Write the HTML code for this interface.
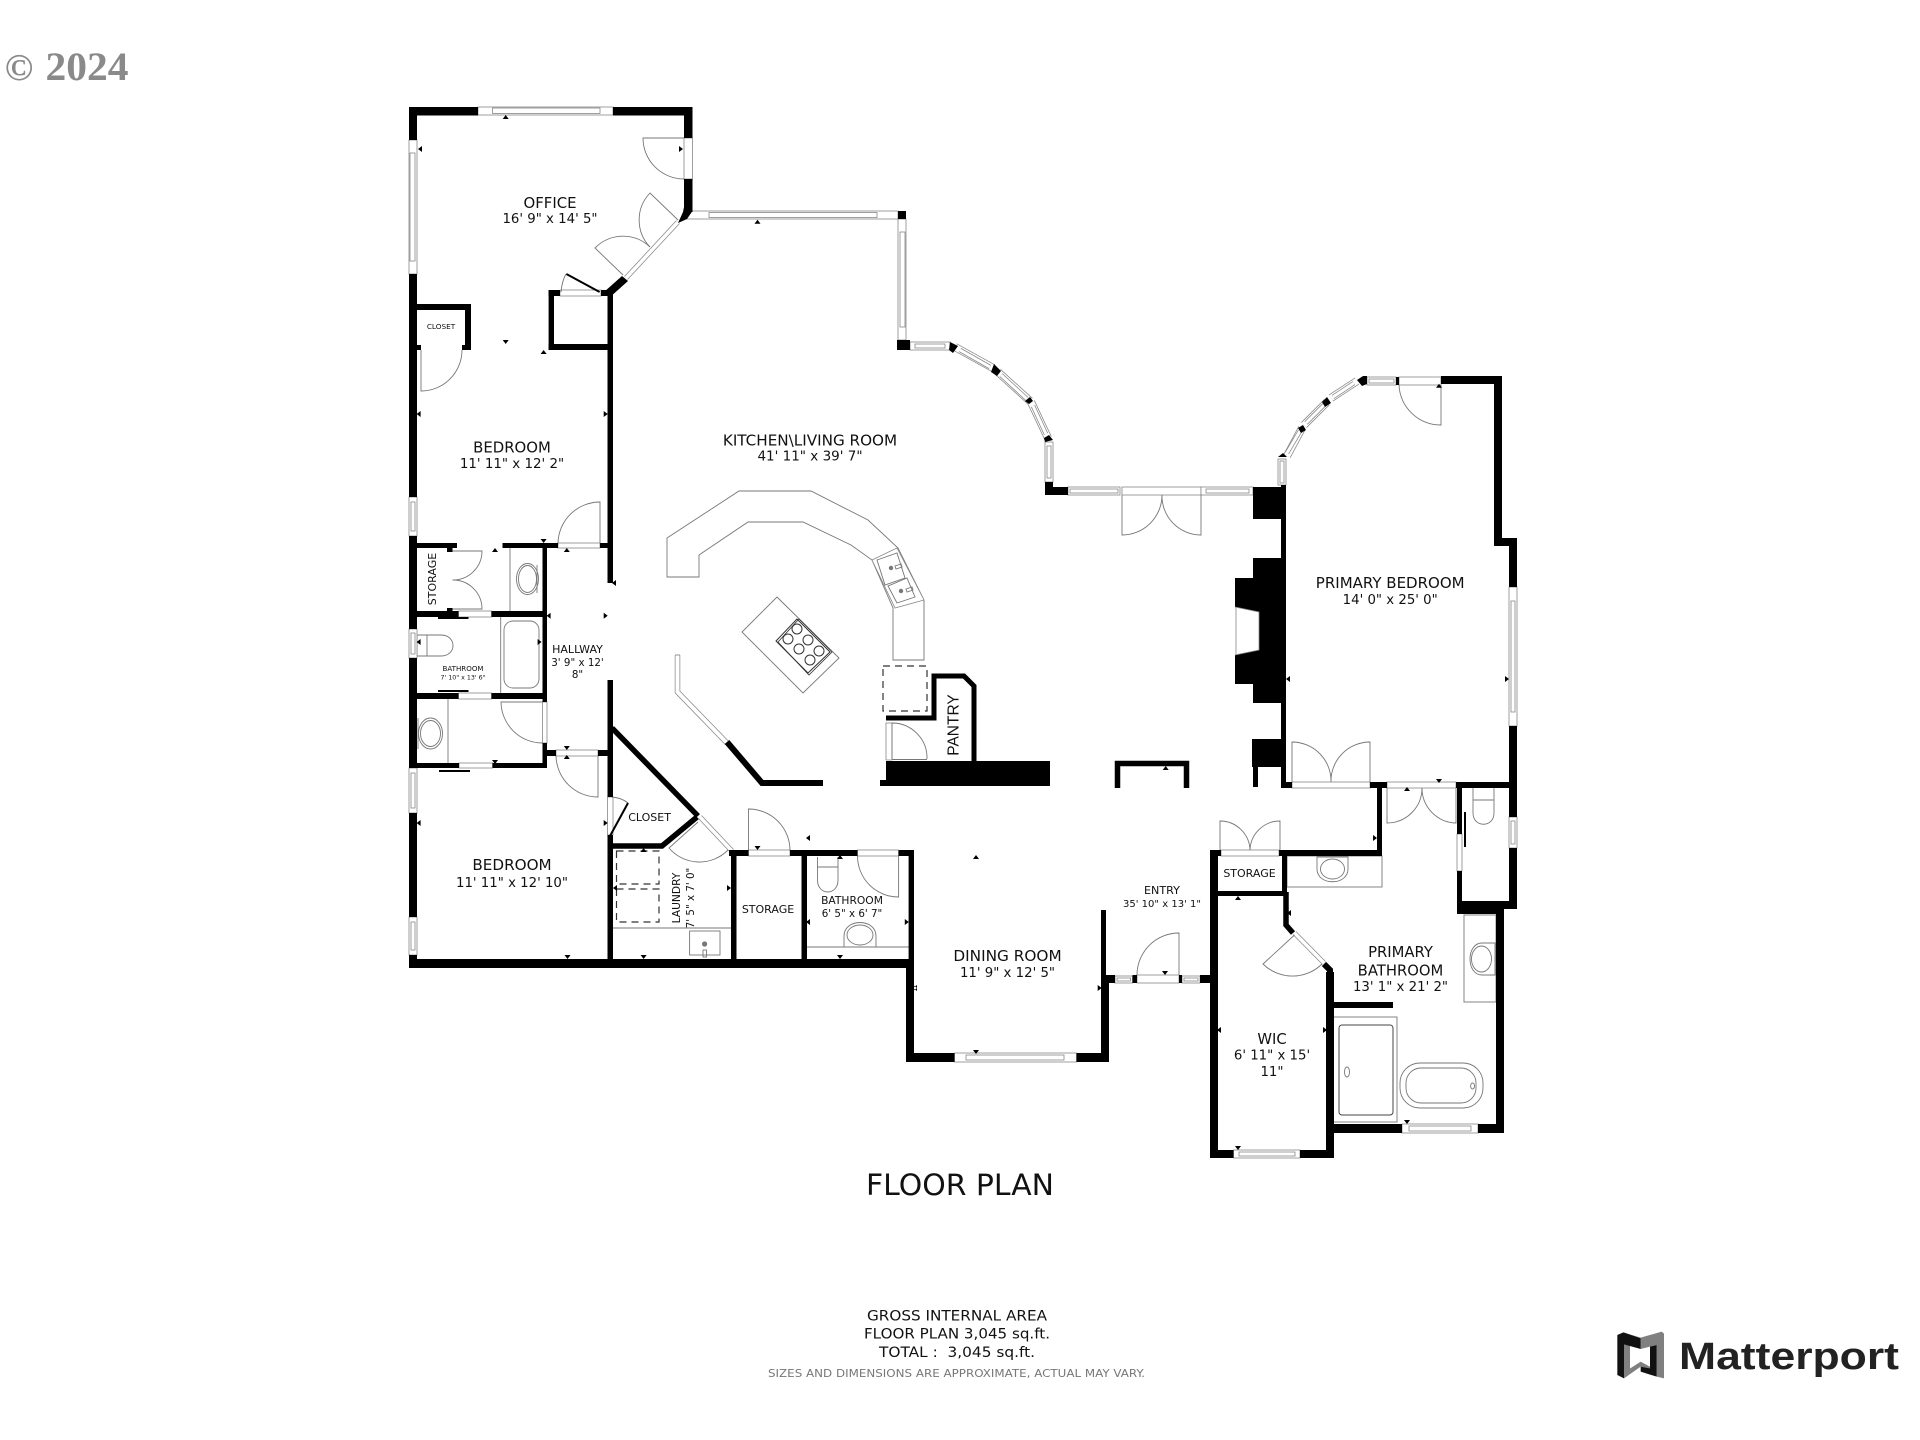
<!DOCTYPE html>
<html><head><meta charset="utf-8"><title>Floor Plan</title>
<style>
html,body{margin:0;padding:0;background:#fff}
svg{display:block}
text{font-family:"DejaVu Sans","Liberation Sans",sans-serif;fill:#111;text-anchor:middle}
.g{fill:#fff;stroke:#888;stroke-width:.8}
.l{fill:none;stroke:#777;stroke-width:.9}
.b{fill:#000;stroke:none}
</style></head><body>
<svg width="1920" height="1440" viewBox="0 0 1920 1440" xmlns="http://www.w3.org/2000/svg">
<rect width="1920" height="1440" fill="#fff"/>

<!-- copyright -->
<text x="19" y="80" style="font-family:'Liberation Serif',serif;font-weight:bold;font-size:38px;fill:#8a8a8a">©</text>
<text x="87" y="80" textLength="83" lengthAdjust="spacingAndGlyphs" style="font-family:'Liberation Serif',serif;font-weight:bold;font-size:40px;fill:#8a8a8a">2024</text>

<!-- fixtures (counter, island etc) -->
<polygon class="l" points="667,538 739,491 811,491 868,520 898,548 924,600 924,660 893,660 893,608 872,560 851,545 803,522 748,522 699,555 699,577 667,577"/>
<polygon class="g" points="872,560 897,548 924,600 895,608"/>
<polygon class="l" points="877,560 897,553 905,578 885,585"/>
<polygon class="l" points="888,586 907,578 915,597 897,603"/>
<circle cx="891" cy="568" r="2.2" fill="#777"/><circle cx="901" cy="591" r="2.2" fill="#777"/>
<path class="l" d="M895 566l6-2 1 3-6 2zM906 589l6-2 1 3-6 2z"/>
<polygon class="l" points="777,597 839,658 803,693 742,632"/>
<polygon fill="#fff" stroke="#333" stroke-width="1" points="797,619 830,652 808,673 776,641"/>
<polygon fill="none" stroke="#333" stroke-width=".8" points="799,619 832,652 809,675 778,642"/>
<g fill="#fff" stroke="#333" stroke-width="1"><circle cx="797" cy="629" r="5"/><circle cx="788" cy="639" r="5"/><circle cx="808" cy="640" r="5"/><circle cx="799" cy="649" r="5"/><circle cx="819" cy="651" r="5"/><circle cx="810" cy="660" r="5"/></g>
<rect x="883" y="666" width="44" height="45" fill="none" stroke="#333" stroke-width="1.2" stroke-dasharray="7 5"/>
<rect x="616.500" y="851" width="42.500" height="33" fill="none" stroke="#333" stroke-width="1.2" stroke-dasharray="7 5"/>
<rect x="616.500" y="889" width="42.500" height="33" fill="none" stroke="#333" stroke-width="1.2" stroke-dasharray="7 5"/>
<path class="l" d="M613 928H731"/>
<rect class="l" x="689.600" y="931" width="30.400" height="24"/>
<circle cx="704.600" cy="944" r="2.600" fill="#777"/><rect class="l" x="703" y="950" width="3.500" height="7"/>

<!-- small bath fixtures -->
<path class="l" d="M807 947H908.600"/>
<path class="l" d="M844 947v-11c0-18 32-18 32 0v11z"/><ellipse class="l" cx="860" cy="935" rx="13" ry="10"/>
<path class="l" d="M817.500 857v10h20.500v-10M817.500 867v13c0 16 20.500 16 20.500 0v-13"/>
<!-- hall bath fixtures -->
<path class="l" d="M510 548v63"/>
<ellipse class="l" cx="527.500" cy="579" rx="11" ry="15.500"/><ellipse class="l" cx="527.500" cy="579" rx="9" ry="13.500"/>
<path class="l" d="M537 565v28"/>
<path class="l" d="M500.700 617v76"/>
<rect class="l" x="504" y="621" width="35" height="67" rx="9"/>
<path class="l" d="M417 635H441c16 0 16 21 0 21H417zM427 635v21"/>
<path class="l" d="M448 699v64"/>
<ellipse class="l" cx="430.500" cy="733.500" rx="12" ry="15.500"/><ellipse class="l" cx="430.500" cy="733.500" rx="10" ry="13"/>
<path class="l" d="M418 718v31"/>
<!-- primary bath fixtures -->
<rect class="l" x="1333" y="1017" width="64" height="105"/>
<rect fill="none" stroke="#444" stroke-width="1" x="1339" y="1025" width="54" height="90" rx="3"/>
<ellipse class="l" cx="1347" cy="1072" rx="2.500" ry="5"/>
<rect class="l" x="1400" y="1063" width="83" height="45" rx="20"/>
<rect class="l" x="1406" y="1068" width="70" height="35" rx="15"/>
<ellipse class="l" cx="1472.600" cy="1086" rx="2" ry="3"/>
<rect class="l" x="1464" y="915" width="32" height="87"/>
<path class="l" d="M1495 943h-13c-16 0-16 32 0 32h13z"/><ellipse class="l" cx="1481.500" cy="959" rx="10" ry="13"/>
<rect class="l" x="1287" y="856" width="95" height="31"/>
<path class="l" d="M1317 857v12c0 17 31 17 31 0v-12z"/><ellipse class="l" cx="1332.500" cy="869" rx="12" ry="10"/>
<path class="l" d="M1473 787v13h21v-13M1473 800v13c0 15 21 15 21 0v-13"/>

<!-- windows (straight) -->
<g>
<rect class="g" x="478" y="107" width="135" height="8"/><rect class="g" x="492.500" y="108" width="107.500" height="5.500"/>
<rect class="g" x="409" y="140" width="8" height="134"/><rect class="g" x="410" y="153" width="5" height="108"/>
<rect class="g" x="409" y="497" width="8" height="39"/><rect class="g" x="411" y="502" width="4" height="29"/>
<rect class="g" x="409" y="629" width="8" height="29"/><rect class="g" x="411" y="633" width="4" height="21"/>
<rect class="g" x="409" y="768" width="8" height="45"/><rect class="g" x="411" y="773" width="4" height="35"/>
<rect class="g" x="409" y="917" width="8" height="38"/><rect class="g" x="411" y="922" width="4" height="28"/>
<rect class="g" x="684" y="138" width="8.500" height="41"/>
<rect class="g" x="687" y="211" width="211" height="8"/><rect class="g" x="709" y="212.500" width="168" height="5"/>
<rect class="g" x="898" y="219" width="8" height="121"/><rect class="g" x="900" y="232" width="5" height="95"/>
<rect class="g" x="910" y="342" width="40" height="8"/><rect class="g" x="915" y="344" width="30" height="4"/>
<rect class="g" x="1045" y="442" width="8" height="40"/><rect class="g" x="1047" y="446" width="4" height="32"/>
<rect class="g" x="1068" y="487" width="52" height="8"/><rect class="g" x="1070" y="489" width="48" height="4"/>
<rect class="g" x="1122" y="487" width="79" height="8"/>
<rect class="g" x="1201" y="487" width="52" height="8"/><rect class="g" x="1206" y="489" width="43" height="4"/>
<rect class="g" x="1278" y="459" width="8" height="26"/><rect class="g" x="1280" y="461" width="4" height="22"/>
<rect class="g" x="1367" y="377" width="29" height="8"/><rect class="g" x="1369" y="379" width="25" height="4"/>
<rect class="g" x="1399" y="377" width="42" height="8"/>
<rect class="g" x="1509" y="587" width="8" height="139"/><rect class="g" x="1511" y="601" width="4" height="111"/>
<rect class="g" x="1509" y="817" width="8" height="31"/><rect class="g" x="1511" y="821" width="4" height="23"/>
<rect class="g" x="1292" y="782" width="78" height="6"/>
<rect class="g" x="1387" y="782" width="69" height="6"/>
<rect class="g" x="1457" y="834" width="5" height="37"/>
<rect class="g" x="1221" y="850" width="58" height="6"/>
<rect class="g" x="748.500" y="850" width="41.500" height="6"/>
<rect class="g" x="857.500" y="850" width="41" height="6"/>
<rect class="g" x="558" y="543" width="42" height="5"/>
<rect class="g" x="556" y="750" width="42" height="6"/>
<rect class="g" x="458.500" y="611" width="33" height="6"/>
<rect class="g" x="458.500" y="693" width="33" height="6"/>
<rect class="g" x="459" y="763" width="33.500" height="5"/>
<rect class="g" x="542.500" y="702" width="4.500" height="41"/>
<rect class="g" x="607.500" y="797" width="5.500" height="38"/>
<rect class="g" x="886" y="723" width="6" height="37"/>
<path class="l" d="M892 759.500H927"/>
<rect class="g" x="560" y="290" width="41" height="6"/>
<rect class="g" x="954.500" y="1053" width="122" height="9"/><rect class="g" x="966" y="1055" width="98" height="5"/>
<rect class="g" x="1233.500" y="1150" width="66.500" height="8"/><rect class="g" x="1239" y="1152" width="56" height="4"/>
<rect class="g" x="1402" y="1124" width="76" height="9"/><rect class="g" x="1409" y="1126" width="62" height="5"/>
<rect class="g" x="1115" y="976" width="17.500" height="7"/><rect class="g" x="1117" y="978" width="13.500" height="3"/>
<rect class="g" x="1137" y="975" width="42" height="8"/>
<rect class="g" x="1182" y="976" width="18" height="7"/><rect class="g" x="1184" y="978" width="14" height="3"/>
</g>

<!-- diagonal windows -->
<g fill="none" stroke-linecap="butt">
<g stroke="#888"><path stroke-width="8" d="M955 347L993 368M998 372L1030 401M1031 402L1048 438"/></g>
<g stroke="#fff"><path stroke-width="6.500" d="M955 347L993 368M998 372L1030 401M1031 402L1048 438"/></g>
<g stroke="#888"><path stroke-width="4.500" d="M960 350L990 367M1001 375L1027 399M1033 406L1046 434"/></g>
<g stroke="#fff"><path stroke-width="3" d="M960 350L990 367M1001 375L1027 399M1033 406L1046 434"/></g>

<g stroke="#888"><path stroke-width="8" d="M1287 456L1302 428M1304 425L1327 402M1331 398L1357 381"/></g>
<g stroke="#fff"><path stroke-width="6.500" d="M1287 456L1302 428M1304 425L1327 402M1331 398L1357 381"/></g>
<g stroke="#888"><path stroke-width="4.500" d="M1287 453L1300 431M1306 423L1325 404M1333 397L1354 383"/></g>
<g stroke="#fff"><path stroke-width="3" d="M1287 453L1300 431M1306 423L1325 404M1333 397L1354 383"/></g>

<path stroke="#888" stroke-width="5" d="M678 222L626 278"/><path stroke="#fff" stroke-width="3.500" d="M678 222L626 278"/>
<path stroke="#888" stroke-width="5" d="M700 817L732 851"/><path stroke="#fff" stroke-width="3.500" d="M700 817L732 851"/>
<path stroke="#888" stroke-width="5" d="M1294.500 933L1324 963"/><path stroke="#fff" stroke-width="3.500" d="M1294.500 933L1324 963"/>
<path stroke="#888" stroke-width="5.500" d="M677.500 655V692L727 743"/><path stroke="#fff" stroke-width="4" d="M677.500 655V692L727 743"/>
<path stroke="#888" stroke-width=".9" d="M675 655h5"/>
</g>

<!-- door swings -->
<g fill="none" stroke="#777" stroke-width=".9">
<path d="M684 138H643A41 41 0 0 0 684 179"/>
<path d="M623 275L595 248A39 39 0 0 1 650 247"/>
<path d="M678 220L650 193A39 39 0 0 0 650 247"/>
<path d="M421 350V391A41 41 0 0 0 462 350"/>
<path d="M600 543V502A42 42 0 0 0 558 543"/>
<path d="M452.500 551H482A29 29 0 0 1 452.500 580"/>
<path d="M452.500 609H482A29 29 0 0 0 452.500 580"/>
<path d="M542.500 702H501A41.500 41.500 0 0 0 542.500 743"/>
<path d="M598 756V797A42 42 0 0 1 556 756"/>
<path d="M748.500 851V809A41.500 41.500 0 0 1 790 851"/>
<path d="M898.600 856V897A41 41 0 0 1 857.500 856"/>
<path d="M892 759V723A35 35 0 0 1 927 759"/>
<path d="M1122 495V535A40 40 0 0 0 1162 495"/>
<path d="M1201 495V535A39 39 0 0 1 1162 495"/>
<path d="M1441 385V425A42 42 0 0 1 1399 385"/>
<path d="M1292 782V742A39 39 0 0 1 1331 782"/>
<path d="M1370 782V742A39 39 0 0 0 1331 782"/>
<path d="M1387 788V823A35 35 0 0 0 1422 788"/>
<path d="M1456 788V823A35 35 0 0 1 1422 788"/>
<path d="M1220 850V821A30 30 0 0 1 1250 850"/>
<path d="M1280 850V821A30 30 0 0 0 1250 850"/>
<path d="M1179 975V933A42 42 0 0 0 1137 975"/>
<path d="M1294.500 935L1263 964A42 42 0 0 0 1322 964"/>
<path d="M698 822L669 848A40 40 0 0 0 728 850"/>
<path d="M561 292Q562 281 566 274"/>
<path d="M612 797Q622 798 628 803"/>
</g>
<path d="M566.400 274L599.600 292" stroke="#000" stroke-width="2" fill="none"/>
<path d="M628 803L610 836" stroke="#000" stroke-width="2" fill="none"/>

<!-- walls -->
<g class="b">
<!-- office / west side -->
<rect x="409" y="107" width="69" height="8.500"/>
<rect x="613" y="107" width="79.500" height="8.500"/>
<rect x="409" y="107" width="8" height="33"/>
<rect x="684" y="107" width="8.500" height="31"/>
<rect x="684" y="179" width="8.500" height="33"/>
<polygon points="684,207 692.500,211 687,219 678,223 683,212"/>
<polygon points="622,276 628,281 609,298 604,292"/>
<rect x="409" y="274" width="8" height="223"/>
<rect x="409" y="536" width="8" height="93"/>
<rect x="409" y="658" width="8" height="110"/>
<rect x="409" y="813" width="8" height="104"/>
<rect x="409" y="955" width="8" height="13"/>
<rect x="409" y="959" width="505" height="9"/>
<!-- closet NW -->
<rect x="417" y="304" width="54" height="6"/>
<rect x="465" y="304" width="6" height="46"/>
<rect x="462" y="345" width="9" height="5"/>
<rect x="417" y="345" width="4" height="5"/>
<!-- small room -->
<rect x="548.600" y="290" width="11.400" height="6"/>
<rect x="601" y="290" width="12" height="6"/>
<rect x="548.600" y="290" width="5.400" height="60"/>
<rect x="548.600" y="344" width="64" height="6"/>
<rect x="607.500" y="290" width="5.500" height="293"/>
<rect x="607.500" y="680" width="5.500" height="117"/>
<rect x="607.500" y="835" width="5.500" height="125"/>
<!-- storage/baths -->
<rect x="417" y="543" width="40" height="5"/>
<rect x="502.500" y="543" width="55.500" height="5"/>
<rect x="600" y="543" width="8" height="5"/>
<rect x="542.500" y="543" width="4.500" height="159"/>
<rect x="542.500" y="743" width="4.500" height="25"/>
<rect x="447" y="548" width="5.500" height="4"/>
<rect x="447" y="608" width="5.500" height="3"/>
<rect x="417" y="611" width="41.500" height="6"/>
<rect x="491.500" y="611" width="55.500" height="6"/>
<rect x="417" y="693" width="41.500" height="6"/>
<rect x="491.500" y="693" width="55.500" height="6"/>
<rect x="417" y="763" width="42" height="5"/>
<rect x="492.500" y="763" width="54.500" height="5"/>
<rect x="547" y="750" width="9" height="6"/>
<rect x="598" y="750" width="10" height="6"/>
<rect x="438" y="617" width="30.500" height="2"/>
<rect x="438" y="690" width="30.500" height="2"/>
<rect x="439" y="770" width="31" height="2"/>
<!-- closet triangle & laundry -->
<path d="M612 728L698 816" fill="none" stroke="#000" stroke-width="5.500"/>
<path d="M697 817L662 846H613" fill="none" stroke="#000" stroke-width="5.500"/>
<rect x="731" y="850" width="5.500" height="110"/>
<rect x="729" y="850" width="19.500" height="6"/>
<rect x="790" y="850" width="67.500" height="6"/>
<rect x="801.500" y="850" width="5.500" height="110"/>
<rect x="898.600" y="850" width="15.400" height="6"/>
<rect x="908.600" y="850" width="5.400" height="110"/>
<!-- dining -->
<rect x="906" y="960" width="8" height="102"/>
<rect x="906" y="1053" width="48.500" height="9"/>
<rect x="1076.500" y="1053" width="32.500" height="9"/>
<rect x="1101" y="910" width="5" height="73"/>
<rect x="1101" y="975" width="8" height="87"/>
<rect x="1101" y="975" width="14" height="8"/>
<rect x="1132.500" y="975" width="4.500" height="8"/>
<rect x="1179" y="975" width="3" height="8"/>
<rect x="1200" y="975" width="12" height="8"/>
<!-- north kitchen pillars -->
<rect x="898" y="211" width="8" height="8"/>
<rect x="897" y="340" width="13" height="10"/>
<polygon points="950,342 958,346 953,353 949,350"/>
<polygon points="994,364 1001,371 997,376 991,372"/>
<polygon points="1030,397 1033,401 1029,404 1025,401"/>
<polygon points="1044,438 1049,435 1053,440 1045,442"/>
<rect x="1045" y="482" width="8" height="13"/>
<rect x="1045" y="487" width="23" height="8"/>
<!-- pantry -->
<path d="M886 718H934V676H964L974 686V762" fill="none" stroke="#000" stroke-width="5"/>
<rect x="886" y="761" width="164" height="25"/>
<rect x="880" y="780" width="6" height="6"/>
<path d="M727 742L762 783H823" fill="none" stroke="#000" stroke-width="6"/>
<!-- arch -->
<path d="M1117.500 788V763.500H1186.500V788" fill="none" stroke="#000" stroke-width="5.500"/>
<!-- fireplace -->
<rect x="1253" y="487" width="33" height="32"/>
<path d="M1253 558H1281V703H1253V684H1235V655L1259 650V612L1235 607V578H1253Z"/>
<rect x="1252" y="739" width="29" height="28"/>
<rect x="1253" y="767" width="5" height="20"/>
<rect x="1281" y="485" width="5" height="303"/>
<rect x="1281" y="782" width="11" height="6"/>
<rect x="1370" y="782" width="17" height="6"/>
<rect x="1377" y="782" width="5" height="74"/>
<!-- primary bedroom -->
<rect x="1441" y="376" width="61" height="8"/>
<rect x="1494" y="376" width="8" height="170"/>
<rect x="1494" y="538" width="23" height="8"/>
<rect x="1509" y="538" width="8" height="49"/>
<rect x="1509" y="726" width="8" height="91"/>
<rect x="1509" y="848" width="8" height="61"/>
<rect x="1456" y="782" width="61" height="6"/>
<rect x="1396" y="377" width="3" height="8"/>
<polygon points="1357,380 1363,376 1367,376 1367,384 1362,386"/>
<polygon points="1322,402 1327,397 1331,403 1325,407"/>
<polygon points="1298,428 1303,425 1306,430 1301,433"/>
<polygon points="1278,457 1283,453 1287,457"/>
<rect x="1457" y="782" width="5" height="52"/>
<rect x="1457" y="871" width="5" height="43"/>
<rect x="1457" y="901" width="60" height="8"/>
<rect x="1457" y="905" width="47" height="9"/>
<rect x="1464" y="812" width="2" height="35"/>
<!-- storage/wic -->
<rect x="1210" y="850" width="8" height="308"/>
<rect x="1210" y="850" width="11" height="6"/>
<rect x="1279" y="850" width="103" height="6"/>
<rect x="1282" y="850" width="5" height="46"/>
<rect x="1218" y="891" width="69" height="5"/>
<path d="M1286 892V925L1293 933" fill="none" stroke="#000" stroke-width="5.500"/>
<path d="M1324 964L1330 970V975" fill="none" stroke="#000" stroke-width="6"/>
<rect x="1326" y="972" width="8" height="186"/>
<rect x="1210" y="1150" width="23.500" height="8"/>
<rect x="1300" y="1150" width="34" height="8"/>
<rect x="1332" y="1002" width="61" height="6"/>
<rect x="1326" y="1124" width="76" height="9"/>
<rect x="1478" y="1124" width="26" height="9"/>
<rect x="1496" y="905" width="8" height="228"/>
<!-- markers -->
<path d="M505.700 115l3 4h-6zM418 149l4 3v-6zM683 149l-4 3v-6zM757.500 219.700l3 4h-6zM505.700 344l3-4h-6zM543.600 350l3 4h-6zM416.600 414l4 3v-6zM607.700 414l-4 3v-6zM495 548l3 4h-6zM543.600 543l3-4h-6zM566.800 548l3 4h-6zM612 583l4 3v-6zM546.600 615.700l4 3v-6zM607.700 615.700l-4 3v-6zM416.600 642l4 3v-6zM541.600 642l-4 3v-6zM495 764l3-4h-6zM566.800 750l3-4h-6zM566.800 755l3 4h-6zM416.600 823l4 3v-6zM607.700 823l-4 3v-6zM567.500 959l3-4h-6zM643.600 848l3 4h-6zM613 888l4 3v-6zM731 888l-4 3v-6zM643.600 959l3-4h-6zM757.500 850l3-4h-6zM806 838l4 3v-6zM840 855l3 4h-6zM806 922l4 3v-6zM908.800 922l-4 3v-6zM840 959l3-4h-6zM917 988l-4 3v-6zM976 855l3 4h-6zM1439 383.700l3 4h-6zM1286 679l4 3v-6zM1509 679l-4 3v-6zM1165.700 766l3 4h-6zM1439 783l3-4h-6zM1407 787l3 4h-6zM1377 838l-4 3v-6zM976 1054l3-4h-6zM913 988l4 3v-6zM1101.700 988l-4 3v-6zM1165 975l3-4h-6zM1238 896l3 4h-6zM1287 913l4 3v-6zM1217 1030l4 3v-6zM1327 1030l-4 3v-6zM1238 1150l3-4h-6zM1407 1124l3-4h-6z"/>
</g>
<path d="M1235 607L1259 612V650L1235 655" fill="none" stroke="#888" stroke-width=".8"/>
<path d="M1236 607V655" fill="none" stroke="#888" stroke-width=".8"/>

<!-- labels -->
<text x="550" y="208" style="font-size:14.900px">OFFICE</text>
<text x="550" y="223" style="font-size:13.300px">16' 9" x 14' 5"</text>
<text x="441" y="329" style="font-size:7.300px">CLOSET</text>
<text x="512" y="452.500" style="font-size:14.900px">BEDROOM</text>
<text x="512" y="468" style="font-size:13.400px">11' 11" x 12' 2"</text>
<text x="810" y="445.500" style="font-size:15.200px">KITCHEN\LIVING ROOM</text>
<text x="810" y="460.500" style="font-size:13.500px">41' 11" x 39' 7"</text>
<text transform="translate(436 579) rotate(-90)" style="font-size:11px">STORAGE</text>
<text x="463" y="671" style="font-size:7.100px">BATHROOM</text>
<text x="463" y="679.500" style="font-size:6.300px">7' 10" x 13' 6"</text>
<text x="577.500" y="653" style="font-size:11px">HALLWAY</text>
<text x="577.500" y="666" style="font-size:10.300px">3' 9" x 12'</text>
<text x="577.500" y="678" style="font-size:10.300px">8"</text>
<text x="512" y="870" style="font-size:15.200px">BEDROOM</text>
<text x="512" y="887" style="font-size:13.300px">11' 11" x 12' 10"</text>
<text x="649.600" y="821" style="font-size:11px">CLOSET</text>
<text transform="translate(680 898) rotate(-90)" style="font-size:10.700px">LAUNDRY</text>
<text transform="translate(694 898) rotate(-90)" style="font-size:10.300px">7' 5" x 7' 0"</text>
<text x="768" y="913" style="font-size:11px">STORAGE</text>
<text x="852" y="904" style="font-size:10.700px">BATHROOM</text>
<text x="852" y="917" style="font-size:10.300px">6' 5" x 6' 7"</text>
<text transform="translate(958.500 725) rotate(-90)" style="font-size:15.500px;font-family:'Liberation Sans',sans-serif">PANTRY</text>
<text x="1162" y="894" style="font-size:10.500px" textLength="36" lengthAdjust="spacingAndGlyphs">ENTRY</text>
<text x="1162" y="907" style="font-size:10px" textLength="78" lengthAdjust="spacingAndGlyphs">35' 10" x 13' 1"</text>
<text x="1007.500" y="961" style="font-size:15.300px">DINING ROOM</text>
<text x="1007.500" y="977" style="font-size:13.300px">11' 9" x 12' 5"</text>
<text x="1249.500" y="877" style="font-size:11px">STORAGE</text>
<text x="1272" y="1044" style="font-size:14.800px">WIC</text>
<text x="1272" y="1059.500" style="font-size:13.300px">6' 11" x 15'</text>
<text x="1272" y="1076" style="font-size:13.300px">11"</text>
<text x="1400.500" y="957" style="font-size:14.800px">PRIMARY</text>
<text x="1400.500" y="975.500" style="font-size:14.800px">BATHROOM</text>
<text x="1400.500" y="991" style="font-size:13.300px">13' 1" x 21' 2"</text>
<text x="1390.200" y="588" style="font-size:15px">PRIMARY BEDROOM</text>
<text x="1390.200" y="604" style="font-size:13.300px">14' 0" x 25' 0"</text>

<text x="960" y="1195" style="font-size:29.500px" textLength="188" lengthAdjust="spacingAndGlyphs">FLOOR PLAN</text>
<text x="957" y="1320.500" style="font-size:14.500px" textLength="180" lengthAdjust="spacingAndGlyphs">GROSS INTERNAL AREA</text>
<text x="957" y="1338.500" style="font-size:14.500px" textLength="186" lengthAdjust="spacingAndGlyphs">FLOOR PLAN 3,045 sq.ft.</text>
<text x="957" y="1357" style="font-size:14.500px" textLength="156" lengthAdjust="spacingAndGlyphs">TOTAL :&#160; 3,045 sq.ft.</text>
<text x="956.500" y="1377" style="font-size:10.500px;fill:#777" textLength="377" lengthAdjust="spacingAndGlyphs">SIZES AND DIMENSIONS ARE APPROXIMATE, ACTUAL MAY VARY.</text>

<!-- logo -->
<g transform="translate(1610 1325) scale(.3333)">
<polygon fill="#808080" points="40,22 92,38 155,20 162,26 162,160 140,155 140,60 92,72 92,40 42,55 60,62 60,130 92,110 120,125 120,130 92,125 42,160"/>
<polygon fill="#111" points="22,30 40,22 92,40 92,72 42,58 42,160 22,150"/>
<polygon fill="#111" points="120,65 140,60 140,155 92,140 92,125 120,130"/>
<polygon fill="#fff" points="60,70 92,80 120,65 120,125 92,110 60,130"/>
</g>
<text x="1789" y="1369" textLength="220" lengthAdjust="spacingAndGlyphs" style="font-family:'Liberation Sans',sans-serif;font-weight:bold;font-size:38px;fill:#222">Matterport</text>
</svg>
</body></html>
